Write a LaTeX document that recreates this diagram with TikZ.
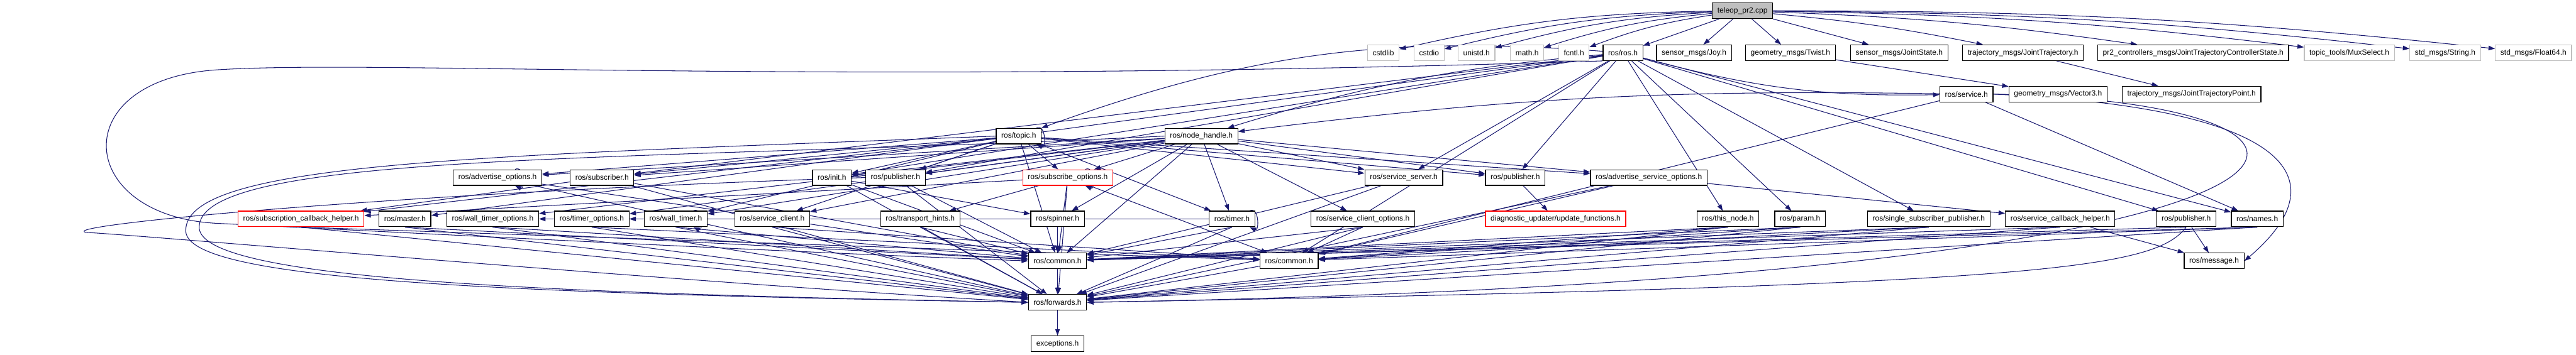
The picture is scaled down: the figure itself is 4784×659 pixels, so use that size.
\documentclass[tikz,border=0pt]{standalone}
\usepackage{fontspec}
\setmainfont{Liberation Sans}
\usetikzlibrary{arrows.meta, backgrounds}
\definecolor{dgEdge}{HTML}{191970}
\definecolor{dgGray}{HTML}{BFBFBF}

\tikzset{
  hdr/.style={draw=black, fill=white, line width=0.8pt, font=\fontsize{8}{9.6}\selectfont,
    minimum height=0.58cm, inner xsep=0.19cm, inner ysep=0pt},
  sysHdr/.style={hdr, draw=dgGray},
  cutHdr/.style={hdr, draw=red},
  rootHdr/.style={hdr, fill=dgGray},
  dep/.style={draw=dgEdge, line width=0.7pt, -{Triangle[length=0.24cm, width=0.17cm]}},
  selfdep/.style={dep, out=25, in=-25, min distance=0.4cm},
}

\begin{document}
\begin{tikzpicture}[x=0.02cm, y=-0.02cm]
  \useasboundingbox (0,0) rectangle (4784,659);

  % root file
  \node[rootHdr] (root) at (3236,20) {teleop\_pr2.cpp};

  % first level includes
  \node[sysHdr] (cstdlib) at (2569,98) {cstdlib};
  \node[sysHdr] (cstdio) at (2654,98) {cstdio};
  \node[sysHdr] (unistd) at (2742,98) {unistd.h};
  \node[sysHdr] (mathh) at (2836,98) {math.h};
  \node[sysHdr] (fcntl) at (2923,98) {fcntl.h};
  \node[hdr] (ros) at (3014,98) {ros/ros.h};
  \node[hdr] (joy) at (3146,98) {sensor\_msgs/Joy.h};
  \node[hdr] (twist) at (3325,98) {geometry\_msgs/Twist.h};
  \node[hdr] (jstate) at (3527,98) {sensor\_msgs/JointState.h};
  \node[hdr] (jtraj) at (3757,98) {trajectory\_msgs/JointTrajectory.h};
  \node[hdr] (pcstate) at (4073,98) {pr2\_controllers\_msgs/JointTrajectoryControllerState.h};
  \node[sysHdr] (mux) at (4363,98) {topic\_tools/MuxSelect.h};
  \node[sysHdr] (stdstr) at (4541,98) {std\_msgs/String.h};
  \node[sysHdr] (stdf64) at (4705,98) {std\_msgs/Float64.h};

  \node[hdr] (service) at (3652,175) {ros/service.h};
  \node[hdr] (vec3) at (3822,175) {geometry\_msgs/Vector3.h};
  \node[hdr] (jtpoint) at (4070,175) {trajectory\_msgs/JointTrajectoryPoint.h};

  \node[hdr] (topic) at (1892,253) {ros/topic.h};
  \node[hdr] (nodeh) at (2231,253) {ros/node\_handle.h};

  \node[hdr] (advopt) at (924,330) {ros/advertise\_options.h};
  \node[hdr] (subscriber) at (1118,330) {ros/subscriber.h};
  \node[hdr] (init) at (1545,330) {ros/init.h};
  \node[hdr] (pubA) at (1663,330) {ros/publisher.h};
  \node[cutHdr] (subopt) at (1983,330) {ros/subscribe\_options.h};
  \node[hdr] (srvserver) at (2607,330) {ros/service\_server.h};
  \node[hdr] (pubB) at (2814,330) {ros/publisher.h};
  \node[hdr] (advsrvopt) at (3062,330) {ros/advertise\_service\_options.h};

  \node[cutHdr] (subcb) at (559,407) {ros/subscription\_callback\_helper.h};
  \node[hdr] (master) at (752,407) {ros/master.h};
  \node[hdr] (wtopt) at (915,407) {ros/wall\_timer\_options.h};
  \node[hdr] (topt) at (1099,407) {ros/timer\_options.h};
  \node[hdr] (walltimer) at (1255,407) {ros/wall\_timer.h};
  \node[hdr] (srvclient) at (1434,407) {ros/service\_client.h};
  \node[hdr] (hints) at (1709,407) {ros/transport\_hints.h};
  \node[hdr] (spinner) at (1964,407) {ros/spinner.h};
  \node[hdr] (timer) at (2288,407) {ros/timer.h};
  \node[hdr] (scopt) at (2531,407) {ros/service\_client\_options.h};
  \node[cutHdr] (diag) at (2889,407) {diagnostic\_updater/update\_functions.h};
  \node[hdr] (thisnode) at (3209,407) {ros/this\_node.h};
  \node[hdr] (param) at (3343,407) {ros/param.h};
  \node[hdr] (singlesub) at (3582,407) {ros/single\_subscriber\_publisher.h};
  \node[hdr] (srvcb) at (3826,407) {ros/service\_callback\_helper.h};
  \node[hdr] (pubC) at (4060,407) {ros/publisher.h};
  \node[hdr] (names) at (4192,407) {ros/names.h};

  \node[hdr] (commonA) at (1964,485) {ros/common.h};
  \node[hdr] (commonB) at (2394,485) {ros/common.h};
  \node[hdr] (message) at (4112,485) {ros/message.h};
  \node[hdr] (forwards) at (1964,562) {ros/forwards.h};
  \node[hdr] (exceptions) at (1964,639) {exceptions.h};

  \begin{scope}[on background layer]
    % teleop_pr2.cpp
    \foreach \n in {cstdlib,cstdio,unistd,mathh,fcntl}
      \draw[dep] (root) to[bend right=6] (\n);
    \foreach \n in {ros,joy,twist,jstate}
      \draw[dep] (root) -- (\n);
    \foreach \n in {jtraj,pcstate,mux,stdstr,stdf64}
      \draw[dep] (root) to[bend left=3] (\n);
    \draw[dep] (twist) -- (vec3);
    \draw[dep] (jtraj) -- (jtpoint);

    % ros/ros.h
    \draw[dep] (ros) to[bend right=12] (topic);
    \draw[dep] (ros) to[bend right=6] (nodeh);
    \foreach \n in {subscriber,init,pubA,srvserver,pubB,master,thisnode,param,singlesub,names,pubC,commonB}
      \draw[dep] (ros) -- (\n);
    \draw[dep] (ros) to[bend right=8] (service);
    \draw[dep] (ros.south west) .. controls (1500,160) and (700,110) .. (400,130)
      .. controls (120,150) and (140,400) .. (400,415)
      .. controls (900,440) and (1500,470) .. (commonA.west);

    % ros/service.h
    \draw[dep] (service) to[bend right=4] (nodeh);
    \draw[dep] (service) -- (names);
    \draw[dep] (service) -- (commonB);
    \draw[dep] (service.east) .. controls (4250,200) and (4350,330) .. (message.east);
    \draw[dep] (service.east) .. controls (4500,190) and (4490,520) .. (forwards.east);

    % ros/node_handle.h
    \foreach \n in {pubA,subscriber,srvserver,srvclient,timer,walltimer,advopt,advsrvopt,subopt,scopt,topt,wtopt,spinner,init,commonA,pubB}
      \draw[dep] (nodeh) -- (\n);
    \draw[dep] (nodeh.west) .. controls (1200,300) and (380,280) .. (370,420)
      .. controls (360,520) and (1000,545) .. (forwards.west);

    % ros/topic.h
    \draw[dep] (topic) to[selfdep] (topic);
    \foreach \n in {advopt,subscriber,init,pubA,subopt,srvserver,pubB,advsrvopt,timer,walltimer,srvclient,commonA,subcb}
      \draw[dep] (topic) -- (\n);
    \draw[dep] (topic.west) .. controls (900,290) and (340,300) .. (345,430)
      .. controls (350,520) and (900,545) .. (forwards.west);

    % second row of headers
    \draw[dep] (advopt) to[selfdep] (advopt);
    \draw[dep] (subopt) to[selfdep] (subopt);
    \draw[dep] (subscriber) -- (subcb);
    \draw[dep] (init) -- (spinner);
    \draw[dep] (subopt) -- (hints);
    \draw[dep] (subopt) -- (subcb);
    \draw[dep] (pubB) -- (diag);
    \draw[dep] (advsrvopt) -- (srvcb);
    \draw[dep] (pubA.west) .. controls (700,360) and (100,420) .. (160,432)
      .. controls (300,440) and (1200,520) .. (forwards.west);
    \foreach \n in {advopt,subscriber,init,pubA,subopt,srvserver,advsrvopt}
      \draw[dep] (\n) -- (forwards);
    \foreach \n in {advopt,subscriber,init,pubA,subopt,srvserver}
      \draw[dep] (\n) -- (commonA);
    \draw[dep] (subopt) -- (commonB);
    \draw[dep] (advsrvopt) -- (commonB);

    % third row of headers
    \draw[dep] (walltimer) to[selfdep] (walltimer);
    \draw[dep] (timer) to[selfdep] (timer);
    \draw[dep] (walltimer) -- (wtopt);
    \draw[dep] (timer) -- (topt);
    \draw[dep] (srvcb) -- (message);
    \draw[dep] (pubC) -- (message);
    \foreach \n in {subcb,master,wtopt,topt,walltimer,srvclient,hints,spinner,timer,scopt,thisnode,param,singlesub,srvcb,names}
      \draw[dep] (\n.south) -- (forwards);
    \draw[dep] (pubC.south) .. controls (4000,500) and (3800,530) .. (forwards.east);
    \foreach \n in {master,wtopt,walltimer,hints,spinner,timer,scopt,thisnode,param,singlesub,srvcb,pubC,names}
      \draw[dep] (\n.south) -- (commonA);
    \foreach \n in {subcb,topt,srvclient,scopt,thisnode,param,singlesub,names}
      \draw[dep] (\n.south) -- (commonB);

    % bottom
    \draw[dep] (commonA) -- (forwards);
    \draw[dep] (commonB) -- (forwards);
    \draw[dep] (forwards) -- (exceptions);
  \end{scope}
\end{tikzpicture}
\end{document}
